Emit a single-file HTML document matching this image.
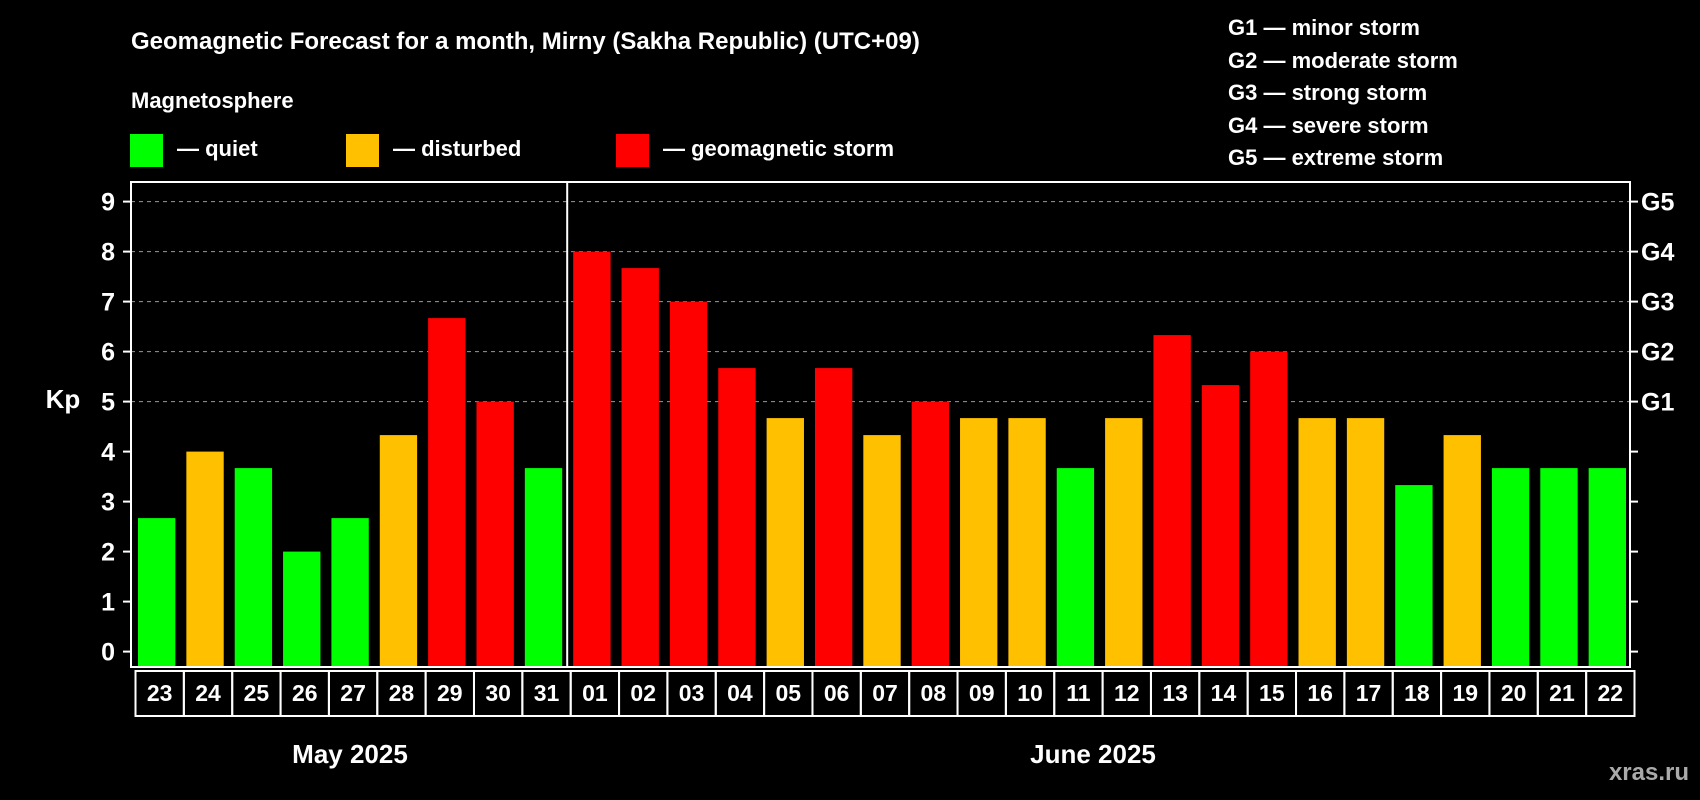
<!DOCTYPE html>
<html><head><meta charset="utf-8"><style>
html,body{margin:0;padding:0;background:#000;}
svg{display:block;font-family:"Liberation Sans",Arial,sans-serif;font-weight:bold;}
</style></head><body>
<svg id="chart" width="1700" height="800" viewBox="0 0 1700 800">
<text x="131" y="49" fill="#fff" font-size="24">Geomagnetic Forecast for a month, Mirny (Sakha Republic) (UTC+09)</text>
<text x="131" y="108" fill="#fff" font-size="22">Magnetosphere</text>
<g><rect x="130" y="134" width="33" height="33" fill="#00ff00"/><text x="177" y="156" fill="#fff" font-size="22">— quiet</text></g>
<g><rect x="346" y="134" width="33" height="33" fill="#ffc000"/><text x="393" y="156" fill="#fff" font-size="22">— disturbed</text></g>
<g><rect x="616" y="134" width="33" height="33" fill="#ff0000"/><text x="663" y="156" fill="#fff" font-size="22">— geomagnetic storm</text></g>
<g font-size="22" fill="#fff">
<text x="1228" y="35">G1 — minor storm</text>
<text x="1228" y="68">G2 — moderate storm</text>
<text x="1228" y="100">G3 — strong storm</text>
<text x="1228" y="133">G4 — severe storm</text>
<text x="1228" y="165">G5 — extreme storm</text>
</g>
<text x="63" y="408" fill="#fff" font-size="26" text-anchor="middle">Kp</text>
<text x="350" y="763" fill="#fff" font-size="26" text-anchor="middle">May 2025</text>
<text x="1093" y="763" fill="#fff" font-size="26" text-anchor="middle">June 2025</text>
<text x="1689" y="780" fill="#aaa" font-size="24" text-anchor="end">xras.ru</text>
<g id="grid"></g><g id="bars"></g><g id="axes"></g>
</svg>
<script>
const days = ["23","24","25","26","27","28","29","30","31","01","02","03","04","05","06","07","08","09","10","11","12","13","14","15","16","17","18","19","20","21","22"];
const kpValues = [2.67,4,3.67,2,2.67,4.33,6.67,5,3.67,8,7.67,7,5.67,4.67,5.67,4.33,5,4.67,4.67,3.67,4.67,6.33,5.33,6,4.67,4.67,3.33,4.33,3.67,3.67,3.67];
const yTicks = ["0","1","2","3","4","5","6","7","8","9"];
const gLabels = ["G1","G2","G3","G4","G5"];
const NS="http://www.w3.org/2000/svg";
const L=131,R=1630,T=182,B=667,Y0=651.6,UNIT=50;
const slot=(R-L)/days.length;
const y=v=>Y0-v*UNIT;
const xs=i=>L+i*slot;
function mk(t,a,p){const e=document.createElementNS(NS,t);for(const k in a)e.setAttribute(k,a[k]);p.appendChild(e);return e;}
const grid=document.getElementById('grid'),bars=document.getElementById('bars'),axes=document.getElementById('axes');
for(let v=5;v<=9;v++){const g=mk('line',{x1:L,x2:R,y1:y(v),y2:y(v),stroke:'#999','stroke-dasharray':'4,4','stroke-width':1},grid);

}
kpValues.forEach((v,i)=>{const c=v>=5?'#ff0000':(v>=4?'#ffc000':'#00ff00');
const r=mk('rect',{x:xs(i)+7,y:y(v),width:slot-11,height:B-1-y(v),fill:c},bars);


const bx=mk('rect',{x:xs(i)+4.5,y:671,width:slot,height:45,fill:'none',stroke:'#fff','stroke-width':2},axes);


const t=mk('text',{x:xs(i)+4.5+slot/2,y:701,fill:'#fff','font-size':23,'text-anchor':'middle'},axes);t.textContent=days[i];

});
const fr=mk('rect',{x:L,y:T,width:R-L,height:B-T,fill:'none',stroke:'#fff','stroke-width':2},axes);


const sep=mk('line',{x1:xs(9)+1,x2:xs(9)+1,y1:T,y2:B,stroke:'#fff','stroke-width':2},axes);


yTicks.forEach((lab,i)=>{const v=+lab;
mk('line',{x1:L-8,x2:L,y1:y(v),y2:y(v),stroke:'#fff','stroke-width':2},axes);
mk('line',{x1:R,x2:R+8,y1:y(v),y2:y(v),stroke:'#fff','stroke-width':2},axes);
const t=mk('text',{x:115,y:y(v)+9,fill:'#fff','font-size':25,'text-anchor':'end'},axes);t.textContent=lab;

});
gLabels.forEach((g,i)=>{const t=mk('text',{x:1641,y:y(5+i)+9,fill:'#fff','font-size':25},axes);t.textContent=g;

});
</script>
</body></html>
